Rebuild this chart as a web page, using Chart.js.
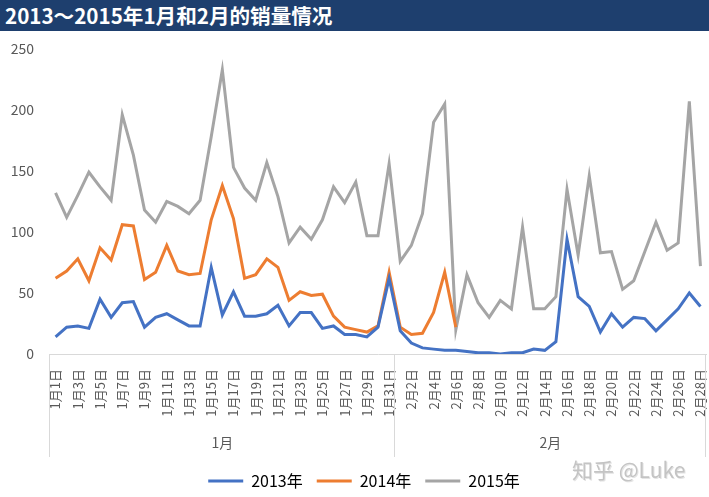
<!DOCTYPE html>
<html>
<head>
<meta charset="utf-8">
<script src="https://cdn.jsdelivr.net/npm/chart.js@4.4.1/dist/chart.umd.min.js"></script>
<style>
  html, body { margin: 0; padding: 0; background: #fff; overflow: hidden; }
  #wrap { position: relative; width: 709px; height: 497px; }
  #title { position: absolute; left: 0; top: 0; width: 709px; height: 31px; background: #1e3f6e;
           color: #fff; font-family: "Noto Sans CJK SC", sans-serif; font-size: 20.6px; font-weight: bold; line-height: 31px;
           padding-left: 5px; box-sizing: border-box; white-space: nowrap; z-index: 2; }
  #mark { position: absolute; left: 572px; top: 458px; font-family: "Noto Sans CJK SC", sans-serif;
          font-size: 21px; line-height: 22px; color: #c4c4c4; white-space: nowrap; z-index: 2;
          text-shadow: 1px 1px 0 #e4e4e4; }
  #cv { position: absolute; left: 0; top: 0; }
</style>
</head>
<body>
<div id="wrap">
  <div id="title">2013～2015年1月和2月的销量情况</div>
  <canvas id="cv" width="709" height="500"></canvas>
  <div id="mark">知乎 @Luke</div>
</div>
<script>
const categories = [
  "1月1日","1月2日","1月3日","1月4日","1月5日","1月6日","1月7日","1月8日","1月9日","1月10日",
  "1月11日","1月12日","1月13日","1月14日","1月15日","1月16日","1月17日","1月18日","1月19日","1月20日",
  "1月21日","1月22日","1月23日","1月24日","1月25日","1月26日","1月27日","1月28日","1月29日","1月30日","1月31日",
  "2月1日","2月2日","2月3日","2月4日","2月5日","2月6日","2月7日","2月8日","2月9日","2月10日",
  "2月11日","2月12日","2月13日","2月14日","2月15日","2月16日","2月17日","2月18日","2月19日","2月20日",
  "2月21日","2月22日","2月23日","2月24日","2月25日","2月26日","2月27日","2月28日"
];
const monthNames = ["1月", "2月"];
const monthSizes = [31, 28];
const seriesNames = ["2013年", "2014年", "2015年"];

const sales2013 = [
  14, 22, 23, 21, 45, 30, 42, 43, 22, 30, 33, 28, 23, 23, 71, 32, 51, 31, 31, 33,
  40, 23, 34, 34, 21, 23, 16, 16, 14, 22, 62,
  19, 9, 5, 4, 3, 3, 2, 1, 1, 0, 1, 1, 4, 3, 10, 94, 47, 39, 18, 33,
  22, 30, 29, 19, 28, 37, 50, 39
];
const sales2014 = [
  62, 68, 78, 60, 87, 77, 106, 105, 61, 67, 89, 68, 65, 66, 110, 138, 111, 62, 65, 78,
  71, 44, 51, 48, 49, 31, 22, 20, 18, 23, 67,
  22, 16, 17, 34, 67, 22, null, null, null, null, null, null, null, null, null, null, null, null, null, null,
  null, null, null, null, null, null, null, null
];
const sales2015 = [
  132, 112, 130, 149, 137, 126, 196, 163, 118, 108, 125, 121, 115, 126, 178, 233, 153, 136, 126, 157,
  129, 91, 104, 94, 110, 137, 124, 141, 97, 97, 156,
  76, 89, 115, 190, 205, 20, 65, 42, 30, 44, 37, 104, 37, 37, 47, 135, 81, 146, 83, 84,
  53, 60, 84, 108, 85, 91, 207, 72
];
const yTicks = [0, 50, 100, 150, 200, 250];

const colors = ["#4472C4", "#ED7D31", "#A5A5A5"];

const groupAxis = {
  id: "groupAxis",
  afterLayout(chart) {
    // nudge the centred legend row slightly right, as in the original
    if (chart.legend) { chart.legend.left += 8; chart.legend.right += 8; }
  },
  afterDraw(chart) {
    const ctx = chart.ctx;
    const x = chart.scales.x;
    const area = chart.chartArea;
    const half = (x.getPixelForValue(1) - x.getPixelForValue(0)) / 2;
    const y0 = area.bottom, y1 = area.bottom + 103;
    ctx.save();
    ctx.strokeStyle = "#d9d9d9";
    ctx.lineWidth = 1;
    ctx.fillStyle = "#595959";
    ctx.font = '14px "Noto Sans CJK SC", sans-serif';
    ctx.textAlign = "center";
    ctx.textBaseline = "middle";
    let start = 0;
    const bounds = [];
    monthSizes.forEach((n, i) => {
      const left = x.getPixelForValue(start) - half;
      const right = x.getPixelForValue(start + n - 1) + half;
      bounds.push(left, right);
      ctx.fillText(monthNames[i], (left + right) / 2, area.bottom + 89);
      start += n;
    });
    [...new Set(bounds.map(b => Math.round(b)))].forEach(b => {
      ctx.beginPath();
      ctx.moveTo(b - 0.5, y0);
      ctx.lineTo(b - 0.5, y1);
      ctx.stroke();
    });
    ctx.restore();
  }
};

new Chart(document.getElementById("cv"), {
  type: "line",
  data: {
    labels: categories,
    datasets: [sales2013, sales2014, sales2015].map((d, i) => ({
      label: seriesNames[i],
      data: d,
      borderColor: colors[i],
      backgroundColor: colors[i],
      borderWidth: 3,
      pointRadius: 0,
      pointHoverRadius: 0,
      tension: 0,
      spanGaps: false,
      fill: false
    }))
  },
  options: {
    responsive: false,
    animation: false,
    devicePixelRatio: 1,
    layout: { padding: { top: 49, left: 6, right: 3, bottom: 1 } },
    plugins: {
      title: { display: false },
      tooltip: { enabled: false },
      legend: {
        position: "bottom",
        labels: {
          usePointStyle: true,
          pointStyle: "line",
          pointStyleWidth: 35,
          padding: 14,
          color: "#000",
          font: { family: '"Noto Sans CJK SC", sans-serif', size: 16 }
        }
      }
    },
    scales: {
      x: {
        type: "category",
        offset: true,
        grid: { display: false, drawTicks: false },
        border: { display: true, color: "#d9d9d9", width: 1 },
        ticks: {
          autoSkip: false,
          minRotation: 90,
          maxRotation: 90,
          padding: 15,
          color: "#595959",
          font: { family: '"Noto Sans CJK SC", sans-serif', size: 13 },
          callback(value, index) { return index % 2 === 0 ? this.getLabelForValue(value) : ""; }
        },
        afterFit(scale) {
          scale.height = 105;
          scale.paddingLeft = 0;
          scale.paddingRight = 0;
        }
      },
      y: {
        min: 0,
        max: 250,
        afterBuildTicks(scale) { scale.ticks = yTicks.map(v => ({ value: v })); },
        grid: { display: false, drawTicks: false },
        border: { display: false },
        ticks: {
          padding: 16,
          color: "#595959",
          font: { family: '"Noto Sans CJK SC", sans-serif', size: 14 }
        },
        afterFit(scale) { scale.width = 44; }
      }
    }
  },
  plugins: [groupAxis]
});
</script>
</body>
</html>
